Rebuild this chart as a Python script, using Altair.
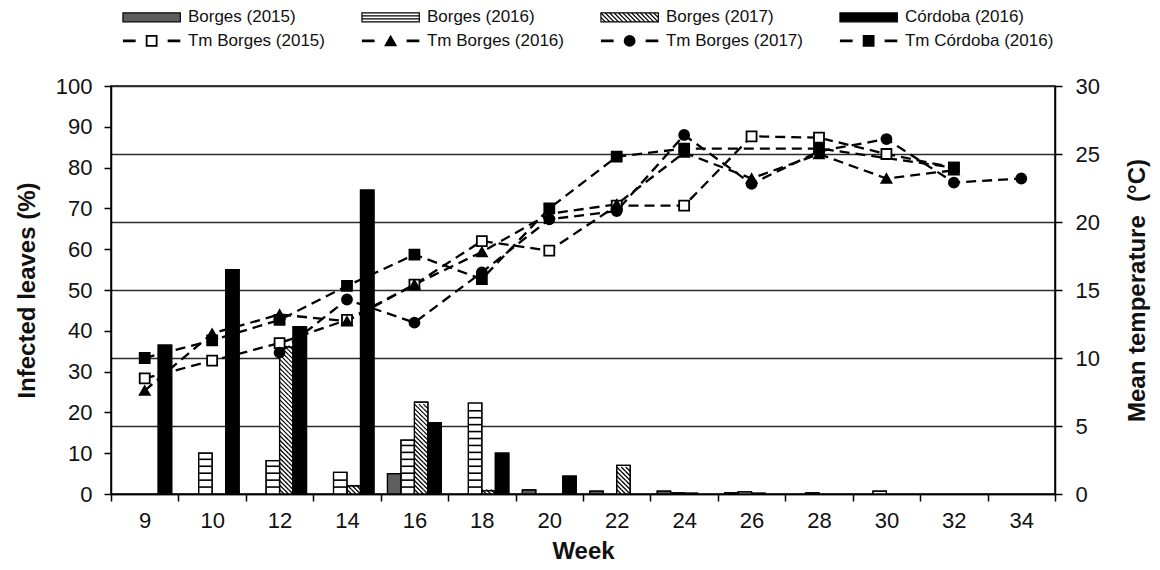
import altair as alt
import pandas as pd

# ---------------- data ----------------
weeks = ["9", "10", "12", "14", "16", "18", "20", "22", "24", "26", "28", "30", "32", "34"]

bar_series = ["Borges (2015)", "Borges (2016)", "Borges (2017)", "Córdoba (2016)"]
borges_2015 = [0, 0, 0, 0, 5.0, 0, 1.0, 0.7, 0.7, 0.3, 0, 0, 0, 0]
borges_2016 = [0, 10.0, 8.2, 5.3, 13.2, 22.3, 0, 0, 0.3, 0.5, 0.3, 0.7, 0, 0]
borges_2017 = [0, 0, 36.0, 2.0, 22.5, 0.8, 0, 7.0, 0.2, 0.2, 0, 0, 0, 0]
cordoba_2016 = [36.5, 55.0, 41.0, 74.5, 17.5, 10.0, 4.4, 0, 0, 0, 0, 0, 0, 0]

temp_series = ["Tm Borges (2015)", "Tm Borges (2016)", "Tm Borges (2017)", "Tm Córdoba (2016)"]
tm_borges_2015 = [8.5, 9.8, 11.1, 12.8, 15.4, 18.6, 17.9, 21.2, 21.2, 26.3, 26.2, 25.0, 24.0, None]
tm_borges_2016 = [7.6, 11.8, 13.2, 12.7, 15.4, 17.8, 20.6, 21.3, 25.1, 23.2, 25.0, 23.2, 23.8, None]
tm_borges_2017 = [None, None, 10.4, 14.3, 12.6, 16.3, 20.2, 20.8, 26.4, 22.8, 25.2, 26.1, 22.9, 23.2]
tm_cordoba_2016 = [10.0, 11.3, 12.8, 15.3, 17.6, 15.8, 21.0, 24.8, 25.4, None, 25.4, None, 24.0, None]

FONT = "Liberation Sans"
INK = "#111111"

# ---------------- tables ----------------
bar_rows = []
for s, vals in zip(bar_series, [borges_2015, borges_2016, borges_2017, cordoba_2016]):
    for w, v in zip(weeks, vals):
        if v > 0:
            bar_rows.append({"week": w, "series": s, "value": v})
bars_df = pd.DataFrame(bar_rows)

temp_rows = []
for s, vals in zip(temp_series, [tm_borges_2015, tm_borges_2016, tm_borges_2017, tm_cordoba_2016]):
    for i, (w, t) in enumerate(zip(weeks, vals)):
        if t is not None:
            temp_rows.append({"week": w, "series": s, "temp": t, "idx": i})
temp_df = pd.DataFrame(temp_rows)

legend_df = pd.DataFrame({
    "series": bar_series + temp_series,
    "col": [0, 1, 2, 3, 0, 1, 2, 3],
    "row": [0, 0, 0, 0, 1, 1, 1, 1],
})


def hatch_path(hw, hh, step):
    """Backslash hatch lines clipped to a hw x hh half-size box (pixel units)."""
    segs = []
    x0 = -hw - 2 * hh
    while x0 < hw - 1e-6:
        ya = max(-hh, -hw - x0 - hh)
        yb = min(hh, hw - x0 - hh)
        if yb - ya > 0.3:
            segs.append(f"M{x0 + ya + hh:.2f},{ya:.2f}L{x0 + yb + hh:.2f},{yb:.2f}")
        x0 += step
    return "".join(segs)


# ---------------- scales / axes ----------------
PLOT_W, PLOT_H = 944, 408
SLOT_PX = PLOT_W / len(weeks) / 5.0          # bar width in px
CELL = SLOT_PX / 3.0                          # hatch cell size
HATCH_STEP = round(CELL / (PLOT_H / 100.0), 3)  # hatch row height in % units
STRIPE_STEP = 1.7

x_scale = alt.Scale(domain=weeks, paddingInner=0, paddingOuter=0)
x_axis = alt.Axis(title="Week", labelAngle=0, tickBand="extent", tickSize=7, tickColor="black",
                  tickWidth=1.5, domainColor="black", domainWidth=1.5, labelFontSize=22,
                  labelColor=INK, labelPadding=9, titleFontSize=24, titleFontWeight="bold",
                  titleColor=INK, titlePadding=8, grid=False, labelFont=FONT, titleFont=FONT)
X = alt.X("week:N", sort=weeks, scale=x_scale, axis=x_axis)
XOFF = alt.XOffset("series:N", sort=bar_series,
                   scale=alt.Scale(domain=bar_series, paddingInner=0, paddingOuter=0.5))

left_scale = alt.Scale(domain=[0, 100], nice=False)
left_axis = alt.Axis(title="Infected leaves (%)", values=list(range(0, 101, 10)), grid=False,
                     tickSize=7, tickColor="black", tickWidth=1.5, domainColor="black",
                     domainWidth=1.5, labelFontSize=22, labelColor=INK, labelPadding=12,
                     titleFontSize=24, titleFontWeight="bold", titleColor=INK, titlePadding=16,
                     labelFont=FONT, titleFont=FONT)
Y_LEFT = alt.Y("value:Q", scale=left_scale, axis=left_axis)

right_scale = alt.Scale(domain=[0, 30], nice=False)
right_axis = alt.Axis(title="Mean temperature\u00a0 (°C)", orient="right",
                      values=list(range(0, 31, 5)), grid=True, gridColor="#2a2a2a", gridWidth=1.6,
                      tickSize=7, tickColor="black", tickWidth=1.5, domainColor="black",
                      domainWidth=1.5, labelFontSize=22, labelColor=INK, labelPadding=13,
                      titleFontSize=24, titleFontWeight="bold", titleColor=INK, titlePadding=26,
                      titleAngle=270, titleBaseline="top", labelFont=FONT, titleFont=FONT)
Y_RIGHT = alt.Y("temp:Q", scale=right_scale, axis=right_axis)

bar_color = alt.Color("series:N", scale=alt.Scale(domain=bar_series,
                                                  range=["#5e5e5e", "white", "white", "black"]),
                      legend=None)
pt_shape = alt.Shape("series:N", scale=alt.Scale(domain=temp_series,
                                                 range=["square", "triangle-up", "circle", "square"]),
                     legend=None)
pt_fill = alt.Fill("series:N", scale=alt.Scale(domain=temp_series,
                                               range=["white", "black", "black", "black"]),
                   legend=None)

# ---------------- main chart ----------------
bars = alt.Chart(bars_df).mark_bar(stroke="black", strokeWidth=1.2).encode(
    x=X, xOffset=XOFF, y=Y_LEFT, color=bar_color)

stripes = (alt.Chart(bars_df)
           .transform_filter(alt.datum.series == "Borges (2016)")
           .transform_calculate(value=f"sequence({STRIPE_STEP}, datum.value - 0.4, {STRIPE_STEP})")
           .transform_flatten(["value"])
           .mark_tick(color="black", thickness=1.6, size=SLOT_PX - 1, opacity=1)
           .encode(x=X, xOffset=XOFF, y=Y_LEFT))

row_path = hatch_path(SLOT_PX / 2.0, CELL / 2.0, CELL)
hatch = (alt.Chart(bars_df)
         .transform_filter(alt.datum.series == "Borges (2017)")
         .transform_calculate(value=f"sequence(0, round(datum.value / {HATCH_STEP}))")
         .transform_flatten(["value"])
         .transform_calculate(value=f"(datum.value + 0.5) * {HATCH_STEP}")
         .mark_point(shape=row_path, size=4, color="black", strokeWidth=1.2, filled=False, opacity=1)
         .encode(x=X, xOffset=XOFF, y=Y_LEFT))

outline = alt.Chart(bars_df).mark_bar(fillOpacity=0, stroke="black", strokeWidth=1.2).encode(
    x=X, xOffset=XOFF, y=Y_LEFT)

lines = alt.Chart(temp_df).mark_line(color="black", strokeDash=[10, 6], strokeWidth=2.3).encode(
    x=X, y=Y_RIGHT, detail="series:N", order="idx:Q")

pts = alt.Chart(temp_df).mark_point(filled=True, size=100, opacity=1, stroke="black",
                                    strokeWidth=1.8).encode(
    x=X, y=Y_RIGHT, shape=pt_shape, fill=pt_fill)

main = alt.layer(
    alt.layer(bars, stripes, hatch, outline),
    alt.layer(lines, pts),
).resolve_scale(y="independent").properties(
    width=PLOT_W, height=PLOT_H,
    view=alt.ViewBackground(stroke="black", strokeWidth=1.5))

# ---------------- legend chart ----------------
LEG_COL_W = 239
LEG_W = LEG_COL_W * 4
SW_HW = 0.12 * LEG_COL_W  # swatch half width in px
lx_scale = alt.Scale(domain=[0, 4], nice=False, zero=False)
ly_scale = alt.Scale(domain=[-0.4, 1.6], reverse=True, nice=False, zero=False)

leg_base = alt.Chart(legend_df)

leg_rect = (leg_base.transform_filter(alt.datum.row == 0)
            .transform_calculate(x1="datum.col + 0.05", x2="datum.col + 0.29",
                                 y1="datum.row - 0.19", y2="datum.row + 0.19")
            .mark_rect(stroke="black", strokeWidth=1.2)
            .encode(x=alt.X("x1:Q", scale=lx_scale, axis=None), x2="x2:Q",
                    y=alt.Y("y1:Q", scale=ly_scale, axis=None), y2="y2:Q", color=bar_color))

leg_center = lambda ch: ch.transform_calculate(cx="datum.col + 0.17")
LX = alt.X("cx:Q", scale=lx_scale, axis=None)
LY = alt.Y("row:Q", scale=ly_scale, axis=None)

leg_stripes = (leg_center(leg_base.transform_filter(alt.datum.series == "Borges (2016)"))
               .mark_point(shape=f"M{-SW_HW:.1f},-1.5L{SW_HW:.1f},-1.5M{-SW_HW:.1f},1.5L{SW_HW:.1f},1.5",
                           size=4, color="black", strokeWidth=1.3, filled=False, opacity=1)
               .encode(x=LX, y=LY))

leg_hatch = (leg_center(leg_base.transform_filter(alt.datum.series == "Borges (2017)"))
             .mark_point(shape=hatch_path(SW_HW, 4.4, 4.4), size=4, color="black",
                         strokeWidth=1.2, filled=False, opacity=1)
             .encode(x=LX, y=LY))

leg_dash = (leg_center(leg_base.transform_filter(alt.datum.row == 1))
            .mark_point(shape=f"M{-SW_HW:.1f},0L-16,0M16,0L{SW_HW:.1f},0", size=4, color="black",
                        strokeWidth=2.6, filled=False, opacity=1)
            .encode(x=LX, y=LY))

leg_pts = (leg_center(leg_base.transform_filter(alt.datum.row == 1))
           .mark_point(filled=True, size=100, opacity=1, stroke="black", strokeWidth=1.8)
           .encode(x=LX, y=LY, shape=pt_shape, fill=pt_fill))

leg_text = (leg_base.transform_calculate(tx="datum.col + 0.322")
            .mark_text(align="left", baseline="middle", fontSize=17, font=FONT, color=INK)
            .encode(x=alt.X("tx:Q", scale=lx_scale, axis=None), y=LY, text="series:N"))

legend = alt.layer(leg_rect, leg_stripes, leg_hatch, leg_dash, leg_pts, leg_text).properties(
    width=LEG_W, height=47)

chart = (alt.vconcat(legend, main, spacing=19)
         .resolve_scale(color="independent", shape="independent", fill="independent")
         .configure_view(stroke=None)
         .properties(padding={"left": 6, "top": 0, "right": 0, "bottom": 0}, background="white"))

chart.save("out.html", embed_options={"renderer": "svg", "actions": False})
